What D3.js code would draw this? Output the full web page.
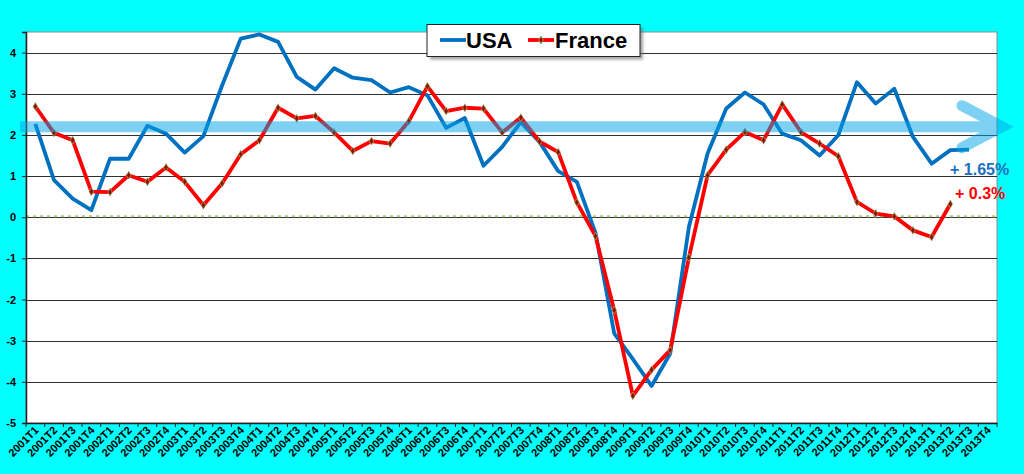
<!DOCTYPE html>
<html>
<head>
<meta charset="utf-8">
<script src="https://cdn.jsdelivr.net/npm/d3@7"></script>
<style>
  html, body { margin: 0; padding: 0; background: #00ffff; }
  svg { display: block; font-family: "Liberation Sans", Arial, sans-serif; }
</style>
</head>
<body>
<svg id="chart" width="1024" height="474"></svg>
<script>
// données (croissance du PIB en glissement annuel, %)
const years = ['2001', '2002', '2003', '2004', '2005', '2006', '2007', '2008', '2009', '2010', '2011', '2012', '2013'];
const quarterNames = ['T1', 'T2', 'T3', 'T4'];
const quarters = years.flatMap(y => quarterNames.map(q => y + q));

const usa = [2.27, 0.90, 0.45, 0.17, 1.42, 1.42, 2.22, 2.03, 1.57, 1.97,
             3.20, 4.34, 4.44, 4.26, 3.41, 3.10, 3.62, 3.39, 3.33, 3.03,
             3.16, 2.96, 2.17, 2.41, 1.25, 1.71, 2.31, 1.83, 1.12, 0.86,
             -0.38, -2.82, -3.45, -4.10, -3.31, -0.24, 1.55, 2.64, 3.03, 2.74,
             2.03, 1.87, 1.50, 1.99, 3.28, 2.76, 3.12, 1.95, 1.30, 1.63,
             1.64];

const france = [2.69, 2.05, 1.87, 0.62, 0.61, 1.02, 0.86, 1.21, 0.86, 0.29,
                0.82, 1.53, 1.87, 2.66, 2.40, 2.46, 2.06, 1.61, 1.85, 1.79,
                2.33, 3.18, 2.58, 2.66, 2.64, 2.06, 2.42, 1.84, 1.58, 0.36,
                -0.46, -2.26, -4.34, -3.71, -3.23, -0.98, 1.02, 1.64, 2.07, 1.87,
                2.74, 2.07, 1.79, 1.48, 0.37, 0.09, 0.02, -0.32, -0.48, 0.32];

const yTicks = [-5, -4, -3, -2, -1, 0, 1, 2, 3, 4];
const trendLevel = 2.2;
const usaNote = '+ 1.65%';
const franceNote = '+ 0.3%';

const usaColor = '#0070c0';
const franceColor = '#ff0000';

const svg = d3.select('#chart');

const plotL = 26, plotR = 997, plotT = 32, plotB = 423;

const x = d3.scaleBand()
    .domain(quarters)
    .range([plotL, plotR])
    .padding(0);
const cx = i => x(quarters[i]) + x.bandwidth() / 2;

const y = d3.scaleLinear()
    .domain([-5, 4.5])
    .range([plotB, plotT]);

// zone de tracé
svg.append('rect')
    .attr('x', plotL).attr('y', plotT)
    .attr('width', plotR - plotL).attr('height', plotB - plotT)
    .attr('fill', '#ffffff')
    .attr('stroke', '#8c8c8c')
    .attr('stroke-width', 1);

// quadrillage
svg.append('g')
    .selectAll('line')
    .data(yTicks)
    .enter()
    .append('line')
    .attr('x1', plotL).attr('x2', plotR)
    .attr('y1', d => Math.round(y(d)) + 0.5)
    .attr('y2', d => Math.round(y(d)) + 0.5)
    .attr('stroke', '#303030')
    .attr('stroke-width', 1.2);

// ligne zéro pointillée
svg.append('line')
    .attr('x1', plotL).attr('x2', plotR)
    .attr('y1', y(0) - 1).attr('y2', y(0) - 1)
    .attr('stroke', '#a9cf7a')
    .attr('stroke-width', 2)
    .attr('stroke-dasharray', '3,4');

// axe Y
const yAxis = svg.append('g')
    .attr('transform', `translate(${plotL},0)`)
    .call(d3.axisLeft(y).tickValues(yTicks).tickSize(4).tickPadding(6).tickFormat(d => String(d)));
yAxis.select('.domain').attr('stroke', '#202020').attr('stroke-width', 1.5);
yAxis.selectAll('.tick line').attr('stroke', '#202020');
yAxis.selectAll('text')
    .attr('font-size', '11px')
    .attr('font-weight', 'bold')
    .attr('fill', '#000');

// axe X
const xAxis = svg.append('g')
    .attr('transform', `translate(0,${plotB})`)
    .call(d3.axisBottom(x).tickSize(0).tickFormat(''));
xAxis.select('.domain').attr('stroke', '#202020').attr('stroke-width', 1.5);
xAxis.selectAll('.tick').remove();

svg.append('g')
    .selectAll('line')
    .data(quarters)
    .enter()
    .append('line')
    .attr('x1', d => x(d)).attr('x2', d => x(d))
    .attr('y1', plotB).attr('y2', plotB + 4)
    .attr('stroke', '#202020');
svg.append('line')
    .attr('x1', plotR).attr('x2', plotR)
    .attr('y1', plotB).attr('y2', plotB + 4)
    .attr('stroke', '#202020');

svg.append('g')
    .selectAll('text')
    .data(quarters)
    .enter()
    .append('text')
    .attr('transform', d => `translate(${x(d) + x.bandwidth() / 2 + 4},${plotB + 8}) rotate(-45)`)
    .attr('text-anchor', 'end')
    .attr('font-size', '11px')
    .attr('font-weight', 'bold')
    .attr('fill', '#000')
    .text(d => d);

// courbes
const line = d3.line()
    .x((d, i) => cx(i))
    .y(d => y(d));

svg.append('path')
    .datum(usa)
    .attr('d', line)
    .attr('fill', 'none')
    .attr('stroke', usaColor)
    .attr('stroke-width', 3.8)
    .attr('stroke-linejoin', 'round');

svg.append('path')
    .datum(france)
    .attr('d', line)
    .attr('fill', 'none')
    .attr('stroke', franceColor)
    .attr('stroke-width', 3.8)
    .attr('stroke-linejoin', 'round');

const marker = d3.symbol().type(d3.symbolDiamond).size(18);
svg.append('g')
    .selectAll('path')
    .data(france)
    .enter()
    .append('path')
    .attr('d', marker)
    .attr('transform', (d, i) => `translate(${cx(i)},${y(d)})`)
    .attr('fill', '#8b1010')
    .attr('stroke', '#9bbb59')
    .attr('stroke-width', 0.7);

// flèche de tendance
const arrowY = y(trendLevel);
const arrow = svg.append('g').attr('opacity', 0.5);
arrow.append('line')
    .attr('x1', 20).attr('x2', 1000)
    .attr('y1', arrowY).attr('y2', arrowY)
    .attr('stroke', '#00a5e6')
    .attr('stroke-width', 11);
arrow.append('path')
    .attr('d', `M962,${arrowY - 21}L1002,${arrowY}L962,${arrowY + 21}`)
    .attr('fill', 'none')
    .attr('stroke', '#00a5e6')
    .attr('stroke-width', 11)
    .attr('stroke-linecap', 'round')
    .attr('stroke-linejoin', 'miter');

// annotations
svg.append('text')
    .attr('x', 950).attr('y', 175)
    .attr('font-size', '16px')
    .attr('font-weight', 'bold')
    .attr('fill', '#1a6fc0')
    .text(usaNote);

svg.append('text')
    .attr('x', 955).attr('y', 199)
    .attr('font-size', '16px')
    .attr('font-weight', 'bold')
    .attr('fill', '#ff0000')
    .text(franceNote);

// légende
const legend = svg.append('g').attr('transform', 'translate(427,24.5)');
const defs = svg.append('defs');
defs.append('filter').attr('id', 'blur')
    .append('feGaussianBlur').attr('stdDeviation', 1.5);
legend.append('rect')
    .attr('x', 3).attr('y', 3)
    .attr('width', 213).attr('height', 32)
    .attr('fill', '#666')
    .attr('opacity', 0.6)
    .attr('filter', 'url(#blur)');
legend.append('rect')
    .attr('x', 0).attr('y', 0)
    .attr('width', 213).attr('height', 32)
    .attr('fill', '#fff')
    .attr('stroke', '#222')
    .attr('stroke-width', 1);

legend.append('line')
    .attr('x1', 13).attr('x2', 39).attr('y1', 15.5).attr('y2', 15.5)
    .attr('stroke', usaColor).attr('stroke-width', 3.8);
legend.append('text')
    .attr('x', 39).attr('y', 23.5)
    .attr('font-size', '22px').attr('font-weight', 'bold')
    .text('USA');

legend.append('line')
    .attr('x1', 101).attr('x2', 127).attr('y1', 15.5).attr('y2', 15.5)
    .attr('stroke', franceColor).attr('stroke-width', 3.8);
legend.append('path')
    .attr('d', marker)
    .attr('transform', 'translate(114,15.5)')
    .attr('fill', '#8b1010')
    .attr('stroke', '#9bbb59')
    .attr('stroke-width', 0.7);
legend.append('text')
    .attr('x', 128).attr('y', 23.5)
    .attr('font-size', '22px').attr('font-weight', 'bold')
    .text('France');
</script>
</body>
</html>
